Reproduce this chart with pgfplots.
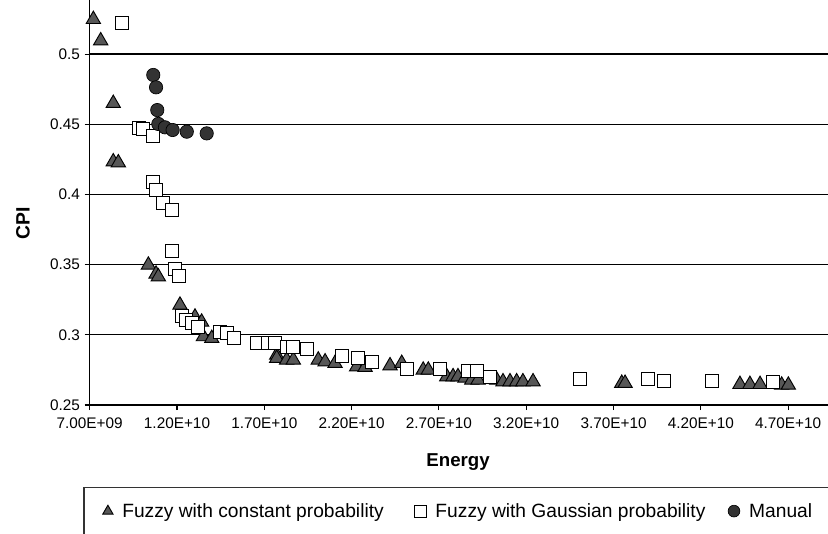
\documentclass[border=0pt]{standalone}
\usepackage{fontspec}
\setmainfont{Liberation Sans}
\usepackage{pgfplots}
\pgfplotsset{compat=1.18}
\definecolor{trifill}{HTML}{575757}
\definecolor{dotfill}{HTML}{333333}

\begin{document}
\begin{tikzpicture}
\begin{axis}[
    at={(67.275pt,-303.75pt)}, anchor=south west,
    scale only axis,
    width=553.7pt, height=303.75pt,
    xmin=7e9, xmax=4.928e10,
    ymin=0.25, ymax=0.5385,
    axis x line=bottom, axis y line=left,
    axis line style={-, line width=0.9pt, black},
    tick align=outside,
    major tick length=3.75pt,
    tick style={black, line width=0.8pt},
    scaled x ticks=false,
    xtick={7e9,1.2e10,1.7e10,2.2e10,2.7e10,3.2e10,3.7e10,4.2e10,4.7e10},
    xticklabels={7.00E+09,1.20E+10,1.70E+10,2.20E+10,2.70E+10,3.20E+10,3.70E+10,4.20E+10,4.70E+10},
    ytick={0.25,0.3,0.35,0.4,0.45,0.5},
    yticklabels={0.25,0.3,0.35,0.4,0.45,0.5},
    ticklabel style={font=\fontsize{11.5}{13}\selectfont},
    xticklabel style={yshift=-2pt},
    ymajorgrids,
    grid style={black, line width=0.9pt},
    xlabel={\textbf{Energy}},
    ylabel={\textbf{CPI}},
    xlabel style={font=\fontsize{14}{16}\selectfont, at={(axis description cs:0.499,0)}, anchor=north, yshift=-33pt},
    ylabel style={font=\fontsize{14.5}{16}\selectfont, at={(axis description cs:0,0.449)}, anchor=center, yshift=50pt},
    legend columns=3,
    legend style={draw=none, fill=none, font=\fontsize{14.4}{16}\selectfont,
        at={(axis description cs:0.012,-0.262)}, anchor=west,
        /tikz/column 1/.style={column sep=5pt},
        /tikz/column 2/.style={column sep=21pt},
        /tikz/column 3/.style={column sep=5pt},
        /tikz/column 4/.style={column sep=15pt},
        /tikz/column 5/.style={column sep=5pt}},
    legend image code/.code={\draw[#1, mark size=4.4pt] plot coordinates {(0pt,0pt)};},
]
\addplot[only marks, mark=triangle*, mark size=6.2pt, draw=black, fill=trifill, line width=0.7pt] coordinates {
(7.21e9,0.5247) (7.63e9,0.5095) (8.35e9,0.4649) (8.35e9,0.4233) (8.64e9,0.4226)
(1.036e10,0.3497) (1.080e10,0.3433) (1.093e10,0.3414) (1.217e10,0.3212)
(1.303e10,0.3127) (1.341e10,0.3091) (1.351e10,0.2987) (1.399e10,0.2975)
(1.771e10,0.2856) (1.771e10,0.2833) (1.828e10,0.2821) (1.866e10,0.2821)
(2.009e10,0.2821) (2.048e10,0.2808) (2.105e10,0.2797) (2.229e10,0.2773)
(2.277e10,0.2769) (2.420e10,0.2780) (2.487e10,0.2797) (2.610e10,0.2749)
(2.639e10,0.2749) (2.745e10,0.2702) (2.781e10,0.2702) (2.809e10,0.2702)
(2.849e10,0.2692) (2.888e10,0.2678) (2.924e10,0.2678) (3.031e10,0.2678)
(3.067e10,0.2666) (3.107e10,0.2666) (3.145e10,0.2666) (3.181e10,0.2666)
(3.239e10,0.2666) (3.747e10,0.2655) (3.766e10,0.2655) (4.424e10,0.2647)
(4.481e10,0.2647) (4.539e10,0.2647) (4.663e10,0.2642) (4.701e10,0.2642)
};
\addlegendentry{Fuzzy with constant probability}
\addplot[only marks, mark=square*, mark size=4.9pt, draw=black, fill=white, line width=0.7pt] coordinates {
(8.87e9,0.5219) (9.84e9,0.4475) (1.007e10,0.4464) (1.064e10,0.4416)
(1.064e10,0.4091) (1.080e10,0.4031) (1.122e10,0.3937) (1.170e10,0.3889)
(1.170e10,0.3599) (1.189e10,0.3467) (1.211e10,0.3419) (1.227e10,0.3136)
(1.251e10,0.3105) (1.284e10,0.3086) (1.322e10,0.3058) (1.446e10,0.3022)
(1.485e10,0.3011) (1.527e10,0.2977) (1.656e10,0.2940) (1.723e10,0.2940)
(1.761e10,0.2940) (1.828e10,0.2915) (1.866e10,0.2915) (1.943e10,0.2897)
(2.143e10,0.2849) (2.238e10,0.2833) (2.315e10,0.2808) (2.515e10,0.2754)
(2.706e10,0.2754) (2.868e10,0.2744) (2.916e10,0.2744) (2.993e10,0.2702)
(3.508e10,0.2685) (3.899e10,0.2685) (3.989e10,0.2673) (4.262e10,0.2673)
(4.615e10,0.2666)
};
\addlegendentry{Fuzzy with Gaussian probability}
\addplot[only marks, mark=*, mark size=5pt, draw=black, fill=dotfill, line width=0.5pt] coordinates {
(1.064e10,0.4851) (1.080e10,0.4763) (1.087e10,0.4601) (1.093e10,0.4502)
(1.131e10,0.4478) (1.175e10,0.4459) (1.256e10,0.4447) (1.370e10,0.4435)
};
\addlegendentry{Manual}
\end{axis}
\draw[line width=0.8pt, black!80] (63pt,-410pt) -- (63pt,-365.8pt) -- (630pt,-365.8pt);
\pgfresetboundingbox
\path[use as bounding box] (0pt,0pt) rectangle (621pt,-399.75pt);
\end{tikzpicture}
\end{document}
